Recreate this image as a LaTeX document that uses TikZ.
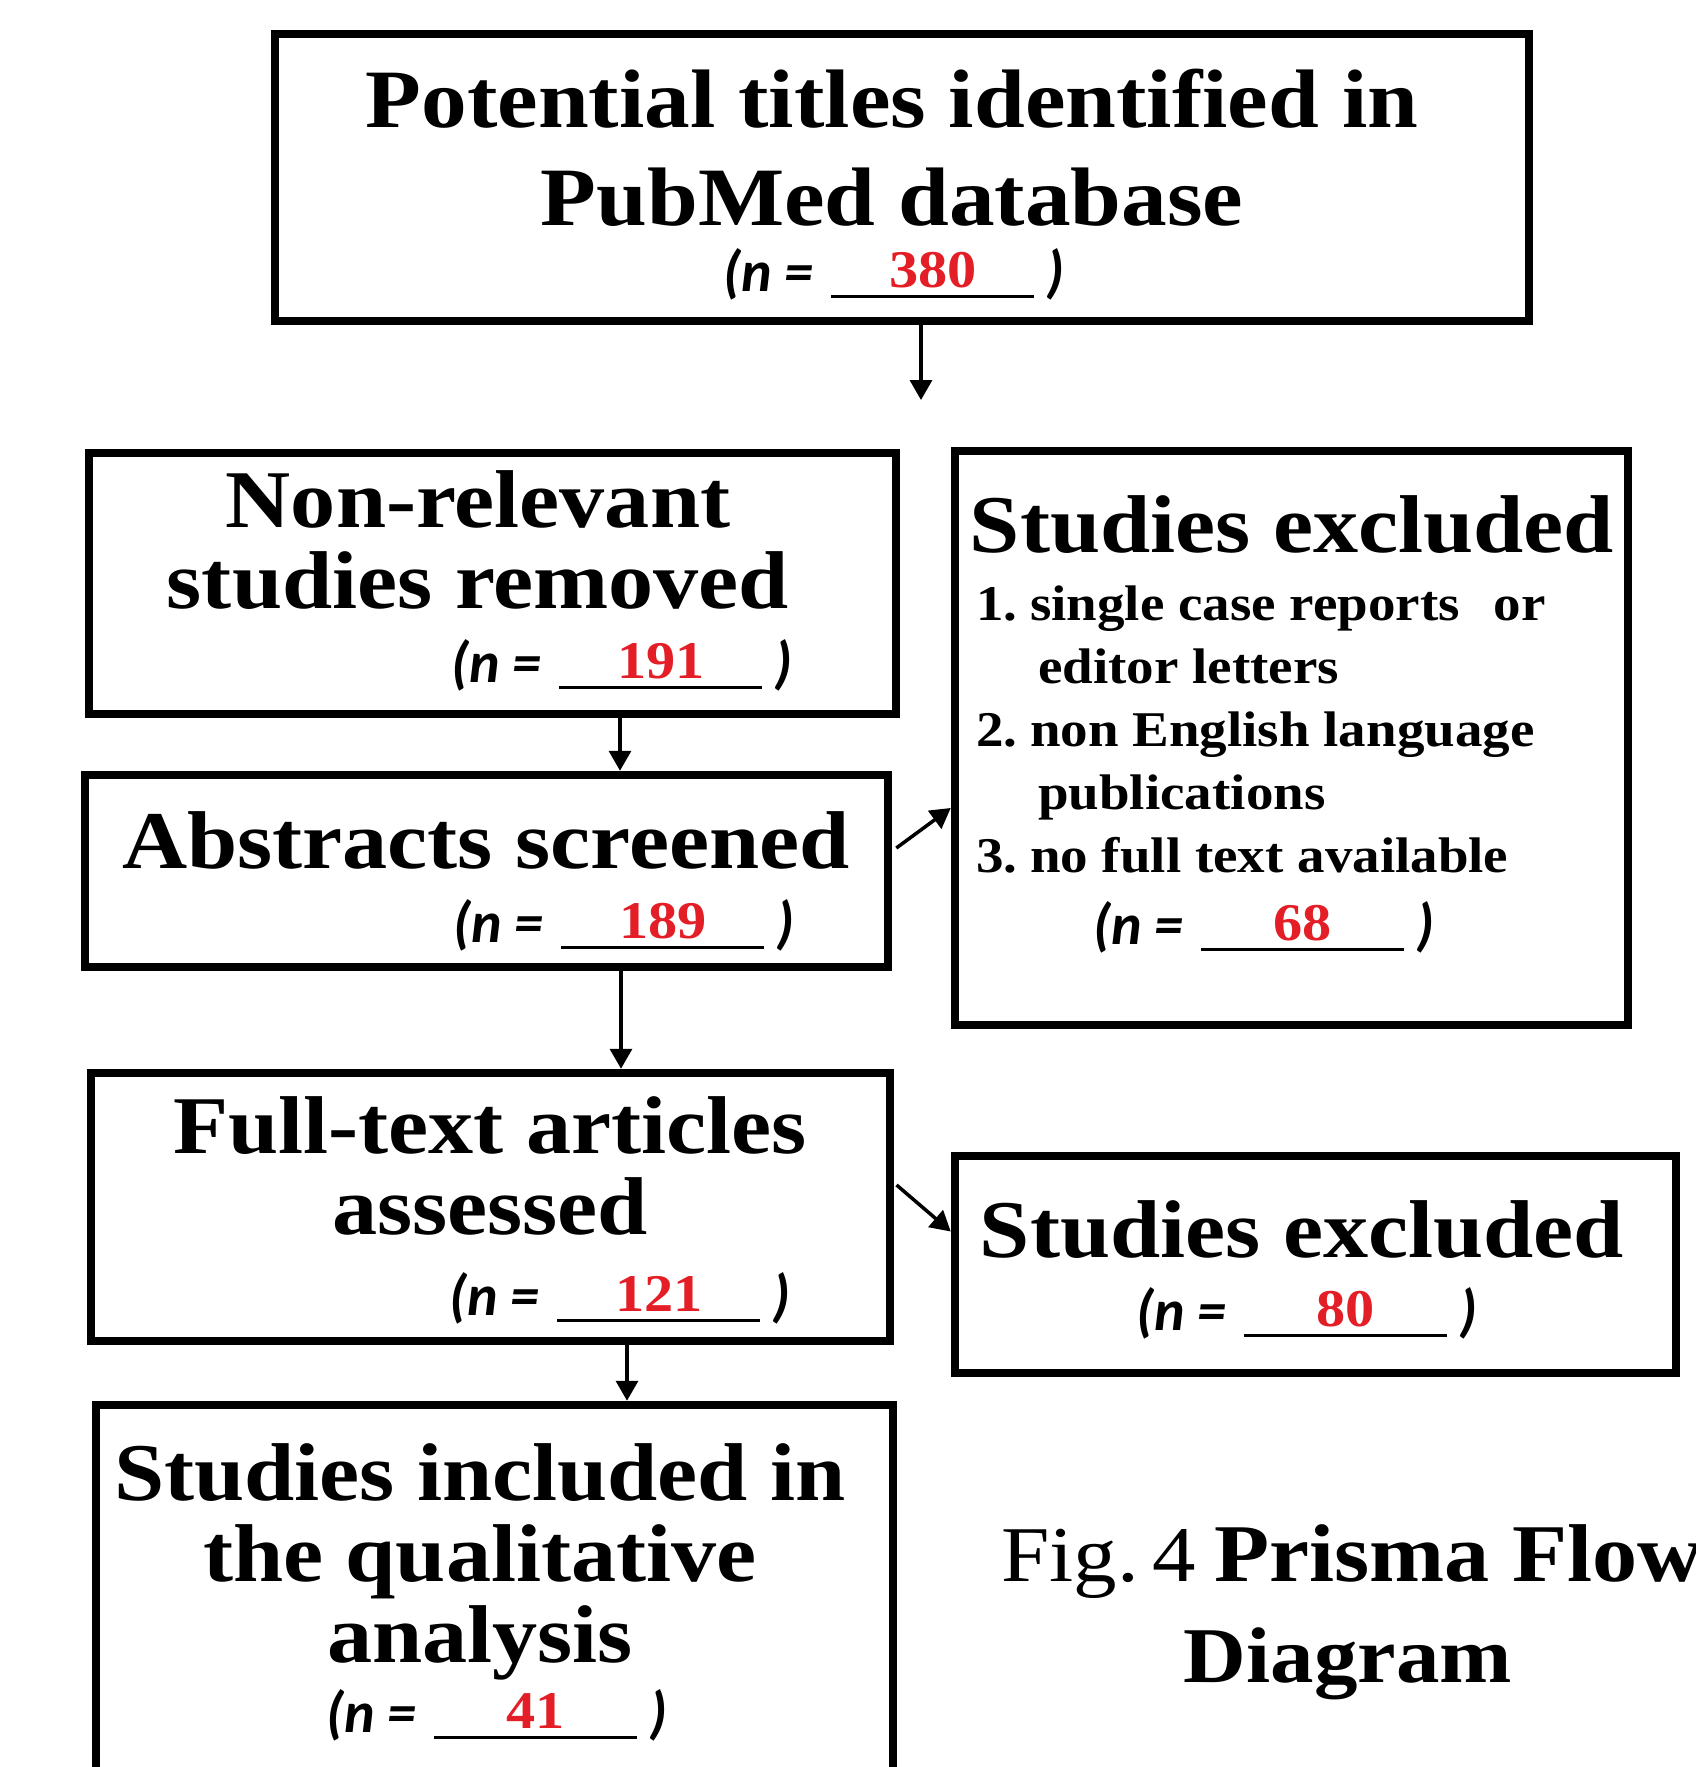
\documentclass[tikz,border=0pt]{standalone}
\usepackage{fontspec}
\setmainfont{Liberation Serif}[FakeStretch=1.1]
\newfontfamily\cntfont{Carlito}
\usetikzlibrary{arrows.meta,calc}
\definecolor{myred}{RGB}{228,30,38}

% count line: (n = ___ )
\newcommand{\ncount}[1]{{\cntfont\bfseries\itshape (n =\hspace{0.3em}\rlap{\rule[-7pt]{203pt}{3.5pt}}%
  \makebox[203pt][c]{\rmfamily\upshape\bfseries\fontsize{53}{53}\selectfont\color{myred}\raisebox{4pt}{#1}}\hspace{12pt})}}

\tikzset{
  box/.style={draw, line width=8.5pt, inner sep=0pt},
  boxtitle/.style={anchor=base, inner sep=0pt, align=center,
                   font=\bfseries\fontsize{82}{81}\selectfont},
  cnt/.style={anchor=base west, inner sep=0pt, font=\fontsize{58}{58}\selectfont},
  arr/.style={-{Triangle[length=20pt,width=22pt]}, line width=3.5pt},
}

\begin{document}
\begin{tikzpicture}[x=1pt,y=-1pt]
  \useasboundingbox (0,0) rectangle (1696,1767);
  \clip (0,0) rectangle (1696,1767);
  % Boxes
  \node[box, minimum width=1254pt, minimum height=287pt] (ident) at (902,177.5) {};
  \node[box, minimum width=807pt, minimum height=261pt] (nonrel) at (492.5,583.5) {};
  \node[box, minimum width=803pt, minimum height=192pt] (abstr) at (486.5,871) {};
  \node[box, minimum width=673pt, minimum height=574pt] (excl1) at (1291.5,738) {};
  \node[box, minimum width=799pt, minimum height=268pt] (fulltext) at (490.5,1207) {};
  \node[box, minimum width=721pt, minimum height=217pt] (excl2) at (1315.5,1264.5) {};
  \node[box, minimum width=797pt, minimum height=425pt] (incl) at (494.5,1617.5) {};

  % Titles (base = baseline of the last line)
  \node[boxtitle, font=\bfseries\fontsize{83}{98}\selectfont] (ident-t) at (892,225)
    {Potential titles identified in\\PubMed database};
  \node[boxtitle] (nonrel-t) at (478,608) {Non-relevant\\studies removed};
  \node[boxtitle] (abstr-t) at (486,868) {Abstracts screened};
  \node[boxtitle] (excl1-t) at (1292,552) {Studies excluded};
  \node[boxtitle] (fulltext-t) at (490,1234) {Full-text articles\\assessed};
  \node[boxtitle] (excl2-t) at (1302,1257) {Studies excluded};
  \node[boxtitle] (incl-t) at (480,1662) {Studies included in\\the qualitative\\analysis};

  % Exclusion reasons
  \node[anchor=base west, inner sep=0pt, align=left,
        font=\bfseries\fontsize{50}{63}\selectfont] (excl1-l) at (976,872)
    {\makebox[54pt][l]{1.}single case reports\hspace{0.4em} or\\
     \hspace{62pt}editor letters\\
     \makebox[54pt][l]{2.}non English language\\
     \hspace{62pt}publications\\
     \makebox[54pt][l]{3.}no full text available};

  % Counts
  \node[cnt] (ident-n) at (723,291) {\ncount{380}};
  \node[cnt] (nonrel-n) at (451,682) {\ncount{191}};
  \node[cnt] (abstr-n) at (453,942) {\ncount{189}};
  \node[cnt] (excl1-n) at (1093,944) {\ncount{68}};
  \node[cnt] (fulltext-n) at (449,1315) {\ncount{121}};
  \node[cnt] (excl2-n) at (1136,1330) {\ncount{80}};
  \node[cnt] (incl-n) at (326,1732) {\ncount{41}};

  % Arrows
  \coordinate (gap) at (921,400);
  \draw[arr] ([xshift=19pt]ident.south) -- (gap);
  \draw[arr] ([xshift=127.5pt]nonrel.south) -- ([xshift=133.5pt]abstr.north);
  \draw[arr] ([xshift=134.5pt]abstr.south) -- ([xshift=130.5pt]fulltext.north);
  \draw[arr] ([xshift=136.5pt]fulltext.south) -- ([xshift=132.5pt]incl.north);
  \draw[arr, shorten <=5pt] ([yshift=20pt]abstr.east) -- ([yshift=-70pt]excl1.west);
  \draw[arr, shorten <=3pt] ([yshift=24pt]fulltext.east) -- ([yshift=33pt]excl2.west);

  % Caption
  \node[anchor=base west, inner sep=0pt, font=\fontsize{79}{79}\selectfont] (cap1)
    at (1001,1581) {Fig.\hspace{14pt}4\hspace{18pt}\textbf{\fontsize{82}{82}\selectfont Prisma Flow}};
  \node[anchor=base, inner sep=0pt, font=\bfseries\fontsize{79}{79}\selectfont] (cap2)
    at (1348,1682) {Diagram};
\end{tikzpicture}
\end{document}
